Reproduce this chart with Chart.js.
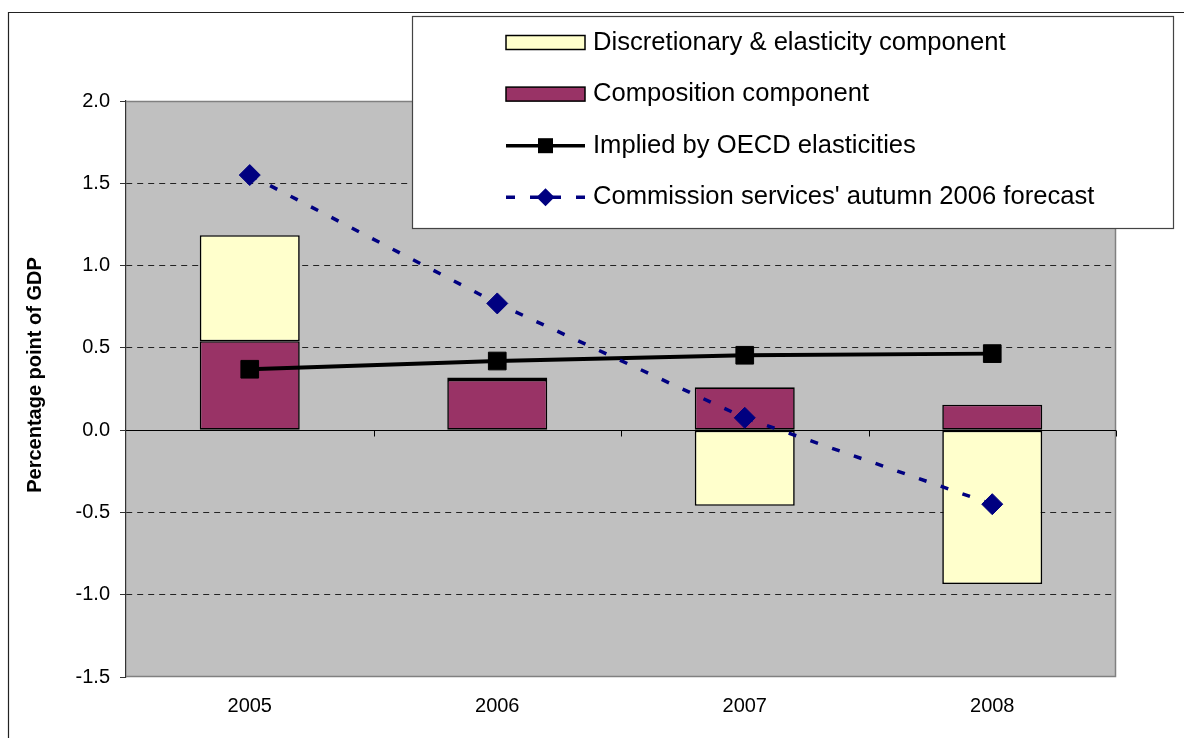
<!DOCTYPE html>
<html>
<head>
<meta charset="utf-8">
<script src="https://cdn.jsdelivr.net/npm/chart.js@4.4.1/dist/chart.umd.min.js"></script>
<style>
  html, body { margin: 0; padding: 0; background: #ffffff; }
  canvas { display: block; }
</style>
</head>
<body>
<canvas id="chart" width="1184" height="738"></canvas>
<script>
// Budget balance decomposition, percentage point of GDP
const categories = ['2005', '2006', '2007', '2008'];
const compositionComponent = [0.54, 0.305, 0.26, 0.155];
const discretionaryComponent = [0.645, 0.015, -0.46, -0.935];
const oecdElasticities = [0.37, 0.42, 0.455, 0.465];
const commissionForecast = [1.55, 0.77, 0.075, -0.45];
const yTicks = [-1.5, -1.0, -0.5, 0.0, 0.5, 1.0, 1.5, 2.0];

const seriesNames = {
  discretionary: 'Discretionary & elasticity component',
  composition: 'Composition component',
  oecd: 'Implied by OECD elasticities',
  commission: "Commission services' autumn 2006 forecast"
};
const axisTitle = 'Percentage point of GDP';

const FONT = '"Liberation Sans", Arial, sans-serif';
const YELLOW = '#FFFFCC';
const MAROON = '#993366';
const NAVY = '#000080';

// white page, outer frame and grey plot area
const backdrop = {
  id: 'backdrop',
  beforeDraw(chart) {
    const { ctx, chartArea: a } = chart;
    ctx.save();
    ctx.fillStyle = '#ffffff';
    ctx.fillRect(0, 0, chart.width, chart.height);
    ctx.strokeStyle = '#222';
    ctx.lineWidth = 1.2;
    ctx.beginPath();
    ctx.moveTo(8.5, chart.height);
    ctx.lineTo(8.5, 12.5);
    ctx.lineTo(chart.width, 12.5);
    ctx.stroke();
    ctx.fillStyle = '#C0C0C0';
    ctx.fillRect(a.left, a.top, a.width, a.height);
    ctx.restore();
  }
};

// zero line with category tick marks, and the plot frame
const zeroAxis = {
  id: 'zeroAxis',
  beforeDatasetsDraw(chart) {
    const { ctx, chartArea: a, scales } = chart;
    const y0 = Math.round(scales.y.getPixelForValue(0)) + 0.5;
    ctx.save();
    ctx.strokeStyle = '#808080';
    ctx.lineWidth = 1.5;
    ctx.beginPath();
    ctx.moveTo(a.left, a.top + 0.5);
    ctx.lineTo(a.right - 0.5, a.top + 0.5);
    ctx.lineTo(a.right - 0.5, a.bottom - 0.5);
    ctx.lineTo(a.left, a.bottom - 0.5);
    ctx.stroke();
    ctx.strokeStyle = '#000';
    ctx.lineWidth = 1;
    ctx.beginPath();
    ctx.moveTo(a.left, y0);
    ctx.lineTo(a.right, y0);
    const w = a.width / categories.length;
    for (let k = 1; k <= categories.length; k++) {
      const x = Math.round(a.left + k * w) + 0.5;
      ctx.moveTo(x, y0);
      ctx.lineTo(x, y0 + 6);
    }
    ctx.stroke();
    ctx.restore();
  }
};

// rotated axis title and boxed legend
const annotations = {
  id: 'annotations',
  afterDraw(chart) {
    const { ctx } = chart;
    ctx.save();
    ctx.fillStyle = '#000';
    ctx.font = 'bold 20px ' + FONT;
    ctx.textAlign = 'center';
    ctx.textBaseline = 'middle';
    ctx.translate(35, 375);
    ctx.rotate(-Math.PI / 2);
    ctx.fillText(axisTitle, 0, 0);
    ctx.restore();

    const box = { x: 412.5, y: 16.5, w: 761, h: 212 };
    ctx.save();
    ctx.fillStyle = '#ffffff';
    ctx.fillRect(box.x, box.y, box.w, box.h);
    ctx.strokeStyle = '#444';
    ctx.lineWidth = 1.2;
    ctx.strokeRect(box.x, box.y, box.w, box.h);

    const symL = 506, symR = 585, symC = (symL + symR) / 2, textX = 593;
    const rows = [
      { kind: 'bar', fill: YELLOW, label: seriesNames.discretionary },
      { kind: 'bar', fill: MAROON, label: seriesNames.composition },
      { kind: 'square', label: seriesNames.oecd },
      { kind: 'diamond', label: seriesNames.commission }
    ];
    ctx.font = '25.6px ' + FONT;
    ctx.textAlign = 'left';
    ctx.textBaseline = 'alphabetic';
    rows.forEach((r, i) => {
      const base = 49.5 + i * 51.6;
      const cy = base - 7;
      if (r.kind === 'bar') {
        ctx.fillStyle = r.fill;
        ctx.fillRect(symL, cy - 7, symR - symL, 14);
        ctx.strokeStyle = '#000';
        ctx.lineWidth = 1.5;
        ctx.strokeRect(symL, cy - 7, symR - symL, 14);
      } else if (r.kind === 'square') {
        ctx.strokeStyle = '#000';
        ctx.lineWidth = 3.5;
        ctx.beginPath();
        ctx.moveTo(symL, cy);
        ctx.lineTo(symR, cy);
        ctx.stroke();
        ctx.fillStyle = '#000';
        ctx.fillRect(symC - 7.5, cy - 7.5, 15, 15);
      } else {
        ctx.strokeStyle = NAVY;
        ctx.lineWidth = 3.5;
        ctx.beginPath();
        [[symL, symL + 9], [symL + 24, symL + 33], [symR - 33, symR - 24], [symR - 9, symR]].forEach(([a, b]) => {
          ctx.moveTo(a, cy);
          ctx.lineTo(b, cy);
        });
        ctx.stroke();
        ctx.fillStyle = NAVY;
        ctx.beginPath();
        ctx.moveTo(symC, cy - 9);
        ctx.lineTo(symC + 9, cy);
        ctx.lineTo(symC, cy + 9);
        ctx.lineTo(symC - 9, cy);
        ctx.closePath();
        ctx.fill();
      }
      ctx.fillStyle = '#000';
      ctx.fillText(r.label, textX, base);
    });
    ctx.restore();
  }
};

new Chart(document.getElementById('chart'), {
  data: {
    labels: categories,
    datasets: [
      {
        type: 'bar',
        label: seriesNames.composition,
        data: compositionComponent,
        backgroundColor: MAROON,
        borderColor: '#000',
        borderWidth: 1.6,
        borderSkipped: false,
        stack: 'components',
        order: 2
      },
      {
        type: 'bar',
        label: seriesNames.discretionary,
        data: discretionaryComponent,
        backgroundColor: YELLOW,
        borderColor: '#000',
        borderWidth: 1.6,
        borderSkipped: false,
        stack: 'components',
        order: 2
      },
      {
        type: 'line',
        label: seriesNames.oecd,
        data: oecdElasticities,
        borderColor: '#000',
        borderWidth: 3.8,
        pointStyle: 'rect',
        pointRadius: 12.5,
        pointBackgroundColor: '#000',
        pointBorderColor: '#000',
        pointBorderWidth: 1,
        tension: 0,
        stack: 'oecd',
        order: 1
      },
      {
        type: 'line',
        label: seriesNames.commission,
        data: commissionForecast,
        borderColor: NAVY,
        borderWidth: 3.5,
        borderDash: [8, 15],
        pointStyle: 'rectRot',
        pointRadius: 10.5,
        pointBackgroundColor: NAVY,
        pointBorderColor: NAVY,
        pointBorderWidth: 1,
        tension: 0,
        stack: 'commission',
        order: 0
      }
    ]
  },
  options: {
    responsive: false,
    animation: false,
    devicePixelRatio: 1,
    layout: { padding: { left: 0, top: 101, right: 68, bottom: 0 } },
    datasets: { bar: { categoryPercentage: 1, barPercentage: 0.404 } },
    plugins: {
      legend: { display: false },
      tooltip: { enabled: false },
      title: { display: false }
    },
    scales: {
      x: {
        stacked: true,
        grid: { display: false, drawTicks: false },
        border: { display: false },
        ticks: {
          color: '#000',
          font: { family: FONT, size: 20 },
          padding: 17,
          maxRotation: 0
        },
        afterFit(scale) { scale.height = 61; }
      },
      y: {
        stacked: true,
        min: -1.5,
        max: 2.0,
        afterBuildTicks(scale) { scale.ticks = yTicks.map(v => ({ value: v })); },
        grid: {
          color: (c) => (c.tick && [0, 2, -1.5].includes(c.tick.value)) ? 'rgba(0,0,0,0)' : '#222',
          lineWidth: 1,
          drawTicks: true,
          tickLength: 6,
          tickColor: '#333',
          tickBorderDash: []
        },
        border: { display: true, color: '#333', width: 1.2, dash: [6, 5] },
        ticks: {
          color: '#000',
          font: { family: FONT, size: 20 },
          padding: 10,
          callback: (v) => Number(v).toFixed(1)
        },
        afterFit(scale) { scale.width = 126; }
      }
    }
  },
  plugins: [backdrop, zeroAxis, annotations]
});
</script>
</body>
</html>
